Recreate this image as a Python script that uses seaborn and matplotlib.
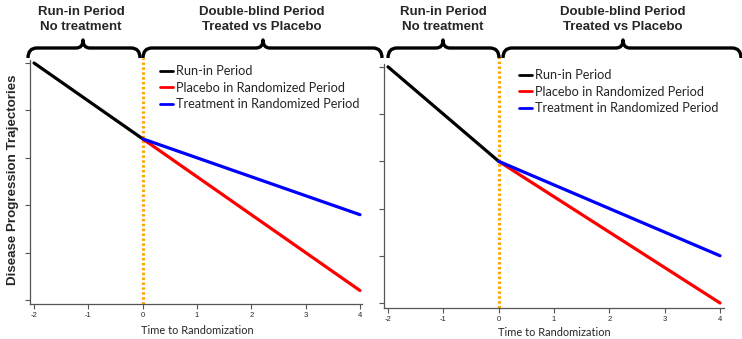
import numpy as np
import pandas as pd
import matplotlib
matplotlib.use('Agg')
import matplotlib.pyplot as plt
from matplotlib.path import Path
from matplotlib.patches import PathPatch
import seaborn as sns

W, H = 742, 339

# data
runin_time = [-2, 0]
rand_time = [0, 4]
left_runin = [5.0, 3.4]
left_placebo = [3.4, 0.2]
left_treat = [3.4, 1.8]
right_runin = [5.0, 3.0]
right_placebo = [3.0, 0.0]
right_treat = [3.0, 1.0]

groups = ['Run-in Period', 'Placebo in Randomized Period', 'Treatment in Randomized Period']
colors = ['black', '#ff0000', '#0000ff']
xticks = [-2, -1, 0, 1, 2, 3, 4]


def make_df(runin, placebo, treat):
    return pd.DataFrame({
        'time': runin_time + rand_time + rand_time,
        'value': runin + placebo + treat,
        'group': [groups[0]] * 2 + [groups[1]] * 2 + [groups[2]] * 2,
    })


sns.set_style('ticks')
plt.rcParams['font.family'] = ['Liberation Sans', 'DejaVu Sans']

fig = plt.figure(figsize=(W / 100, H / 100), dpi=100)


def px(x0, y0, x1, y1):
    # pixel box (from top-left) -> figure fractions
    return [x0 / W, 1 - y1 / H, (x1 - x0) / W, (y1 - y0) / H]


def fpt(x, y):
    return (x / W, 1 - y / H)


def brace(x0, x1, xm, y, drop=10, tip=8, r=9, rt=7):
    verts = [
        fpt(x0, y + drop), fpt(x0, y), fpt(x0 + r, y),
        fpt(xm - rt, y), fpt(xm, y), fpt(xm, y - tip),
        fpt(xm, y), fpt(xm + rt, y),
        fpt(x1 - r, y), fpt(x1, y), fpt(x1, y + drop),
    ]
    codes = [Path.MOVETO, Path.CURVE3, Path.CURVE3,
             Path.LINETO, Path.CURVE3, Path.CURVE3,
             Path.CURVE3, Path.CURVE3,
             Path.LINETO, Path.CURVE3, Path.CURVE3]
    p = PathPatch(Path(verts, codes), transform=fig.transFigure, fill=False,
                  lw=2.4, color='black', capstyle='butt', joinstyle='round')
    fig.patches.append(p)


panels = [
    dict(box=(30, 60, 362, 304), data=(left_runin, left_placebo, left_treat),
         xlim=(-2.074, 4.037), ylim=(-0.084, 5.063), leg=(160, 65),
         xlab=(197, 330), heads=(81, 262),
         braces=[(28, 140, 83), (143, 382, 263)], vtop=1.01),
    dict(box=(384, 64, 724, 308), data=(right_runin, right_placebo, right_treat),
         xlim=(-2.072, 4.072), ylim=(-0.106, 5.06), leg=(519, 69),
         xlab=(554, 333), heads=(443, 623),
         braces=[(388, 499, 443), (503, 741, 623)], vtop=1.04),
]

for i, pn in enumerate(panels):
    ax = fig.add_axes(px(*pn['box']))
    df = make_df(*pn['data'])
    ax.axvline(0, ymin=0, ymax=pn['vtop'], color='#ffa500', lw=2.2,
               ls=(0, (0.8, 0.8)), clip_on=False, zorder=1)
    sns.lineplot(data=df, x='time', y='value', hue='group', hue_order=groups,
                 palette=colors, linewidth=2.3, ax=ax, sort=False, zorder=3)
    ax.set_xlim(*pn['xlim'])
    ax.set_ylim(*pn['ylim'])
    ax.set_xticks(xticks)
    ax.set_xticklabels([str(t) for t in xticks], fontsize=5.5)
    ax.set_yticks(range(6))
    ax.set_yticklabels([])
    ax.tick_params(axis='both', length=3.5, width=0.8, color='#555555', pad=2)
    for s in ['top', 'right']:
        ax.spines[s].set_visible(False)
    for s in ['left', 'bottom']:
        ax.spines[s].set_color('#555555')
        ax.spines[s].set_linewidth(0.9)
    ax.set_xlabel('')
    ax.set_ylabel('')

    lx, ly = pn['leg']
    ax.legend(loc='upper left', bbox_to_anchor=fpt(lx, ly), bbox_transform=fig.transFigure,
              frameon=False, handlelength=1.0, handletextpad=0.25, labelspacing=0.37,
              borderaxespad=0, borderpad=0,
              prop={'family': 'Lato', 'size': 9.2})
    for lh in ax.get_legend().get_lines():
        lh.set_linewidth(2)

    fig.text(*fpt(*pn['xlab']), 'Time to Randomization', ha='center', va='center',
             family='Lato', fontsize=7.9)

    hx1, hx2 = pn['heads']
    for txt1, txt2, hx in [('Run-in Period', 'No treatment', hx1),
                           ('Double-blind Period', 'Treated vs Placebo', hx2)]:
        fig.text(*fpt(hx, 12), txt1, ha='center', va='center',
                 fontweight='bold', fontsize=9.5)
        fig.text(*fpt(hx, 27), txt2, ha='center', va='center',
                 fontweight='bold', fontsize=9.5)
    for b in pn['braces']:
        brace(*b, y=48)

fig.text(*fpt(13, 180), 'Disease Progression Trajectories', rotation=90,
         ha='center', va='center', fontweight='bold', fontsize=9.6)

fig.savefig('out.png', dpi=100)
